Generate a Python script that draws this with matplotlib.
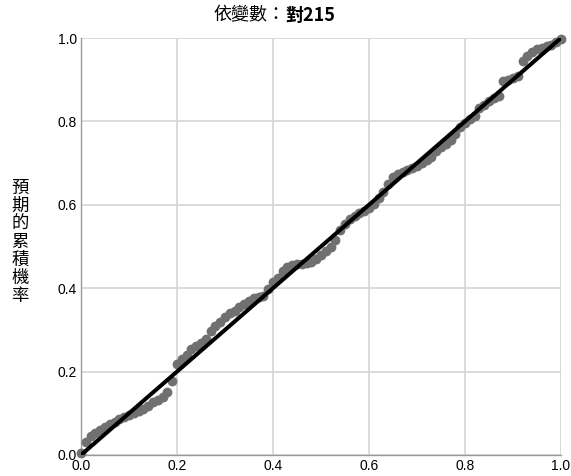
import numpy as np
import matplotlib.pyplot as plt

# P-P plot: observed cum. prob (x) vs expected cum. prob (y)
obs_prob = [round(i * 0.01, 2) for i in range(101)]
exp_prob = [0.005, 0.030, 0.045, 0.052, 0.060, 0.068, 0.074, 0.080, 0.086, 0.092,
            0.097, 0.101, 0.105, 0.110, 0.118, 0.126, 0.133, 0.140, 0.150, 0.178,
            0.218, 0.230, 0.240, 0.253, 0.262, 0.269, 0.278, 0.298, 0.310, 0.320,
            0.330, 0.340, 0.346, 0.356, 0.362, 0.370, 0.376, 0.378, 0.382, 0.398,
            0.414, 0.425, 0.442, 0.450, 0.455, 0.457, 0.458, 0.460, 0.464, 0.470,
            0.480, 0.490, 0.500, 0.515, 0.540, 0.555, 0.567, 0.574, 0.580, 0.586,
            0.592, 0.602, 0.617, 0.630, 0.650, 0.666, 0.673, 0.679, 0.684, 0.689,
            0.694, 0.700, 0.707, 0.715, 0.728, 0.738, 0.747, 0.756, 0.770, 0.786,
            0.797, 0.806, 0.812, 0.833, 0.840, 0.848, 0.855, 0.860, 0.897, 0.900,
            0.904, 0.910, 0.945, 0.958, 0.966, 0.973, 0.977, 0.980, 0.983, 0.990,
            0.997]
ticks = [0.0, 0.2, 0.4, 0.6, 0.8, 1.0]
tick_labels = ['0.0', '0.2', '0.4', '0.6', '0.8', '1.0']

cjk = ['Noto Sans CJK TC', 'DejaVu Sans']

fig = plt.figure(figsize=(5.71, 4.76), dpi=100)
ax = fig.add_axes([81/571, 21/476, 480/571, 417/476])

ax.scatter(obs_prob, exp_prob, s=50, color='#707070', zorder=3, clip_on=False, linewidths=0)
ax.plot([0, 1], [0, 1], color='black', linewidth=2.9, zorder=4, solid_capstyle='round')

ax.set_xlim(0, 1)
ax.set_ylim(0, 1)
ax.set_xticks(ticks)
ax.set_yticks(ticks)
ax.set_xticklabels(tick_labels, family='Liberation Sans', fontsize=10)
ax.set_yticklabels(tick_labels, family='Liberation Sans', fontsize=10)
ax.tick_params(length=0, pad=3)
ax.grid(True, color='#d4d4d4', linewidth=1.2, zorder=0)
ax.set_axisbelow(True)
for s in ['top', 'right']:
    ax.spines[s].set_visible(False)
for s in ['left', 'bottom']:
    ax.spines[s].set_color('#9a9a9a')
    ax.spines[s].set_linewidth(1.0)

# title in two parts (variable name looks bold)
fig.text(0.50, 0.968, '依變數：', family=cjk, fontsize=13, ha='right', va='center')
fig.text(0.50, 0.968, '對215', family=cjk, fontsize=13, fontweight='bold', ha='left', va='center')

# vertical stacked y label
fig.text(20/571, 1 - 242/476, '\n'.join('預期的累積機率'), family=cjk, fontsize=12.5,
         ha='center', va='center', linespacing=1.0)

fig.savefig('out.png', dpi=100)
